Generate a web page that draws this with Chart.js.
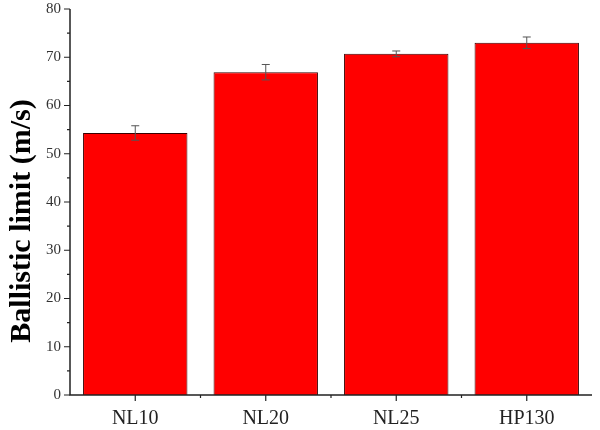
<!DOCTYPE html>
<html lang="en">
<head>
    <meta charset="UTF-8">
    <title>Ballistic limit</title>
    <script src="https://cdn.jsdelivr.net/npm/chart.js"></script>
    <style>
        body { margin: 0; background: #fff; }
        #wrap { width: 600px; height: 430px; }
    </style>
</head>
<body>
    <div id="wrap"><canvas id="blChart"></canvas></div>
    <script>
        const labels = ['NL10', 'NL20', 'NL25', 'HP130'];
        const limits = [54.3, 66.9, 70.7, 73.0];
        const errors = [1.5, 1.6, 0.6, 1.2];
        const yTicks = [0, 10, 20, 30, 40, 50, 60, 70, 80];
        const yTitle = 'Ballistic limit (m/s)';

        // axis lines, major/minor ticks, error bars and the y title
        const extras = {
            id: 'extras',
            afterDatasetsDraw(chart) {
                const ctx = chart.ctx;
                const x = chart.scales.x, y = chart.scales.y;
                const a = chart.chartArea;
                ctx.save();

                // error bars
                ctx.strokeStyle = '#555';
                ctx.lineWidth = 1;
                limits.forEach((v, i) => {
                    const px = x.getPixelForValue(i);
                    const top = y.getPixelForValue(v + errors[i]);
                    const bot = y.getPixelForValue(v - errors[i]);
                    ctx.beginPath();
                    ctx.moveTo(px, top); ctx.lineTo(px, bot);
                    ctx.moveTo(px - 4, top); ctx.lineTo(px + 4, top);
                    ctx.moveTo(px - 4, bot); ctx.lineTo(px + 4, bot);
                    ctx.stroke();
                });

                // axes
                ctx.strokeStyle = '#222';
                ctx.lineWidth = 1.5;
                ctx.beginPath();
                ctx.moveTo(a.left, a.top); ctx.lineTo(a.left, a.bottom);
                ctx.lineTo(a.right, a.bottom);
                ctx.stroke();

                ctx.lineWidth = 1.2;
                ctx.beginPath();
                for (let v = 0; v <= 80; v += 5) {
                    const py = y.getPixelForValue(v);
                    ctx.moveTo(a.left, py);
                    ctx.lineTo(a.left - (v % 10 === 0 ? 6 : 3), py);
                }
                for (let i = 0; i < labels.length; i++) {
                    const px = x.getPixelForValue(i);
                    ctx.moveTo(px, a.bottom); ctx.lineTo(px, a.bottom + 6);
                    if (i > 0) {
                        const mx = (px + x.getPixelForValue(i - 1)) / 2;
                        ctx.moveTo(mx, a.bottom); ctx.lineTo(mx, a.bottom + 3);
                    }
                }
                ctx.stroke();

                // y title, a bit below the axis middle as in the original
                ctx.translate(22, (a.top + a.bottom) / 2 + 19);
                ctx.rotate(-Math.PI / 2);
                ctx.fillStyle = '#000';
                ctx.font = 'bold 30px "Liberation Serif"';
                ctx.textAlign = 'center';
                ctx.textBaseline = 'middle';
                ctx.fillText(yTitle, 0, 0);
                ctx.restore();
            }
        };

        new Chart(document.getElementById('blChart'), {
            type: 'bar',
            data: {
                labels: labels,
                datasets: [{
                    data: limits,
                    backgroundColor: '#ff0000',
                    borderColor: '#3a0000',
                    borderWidth: 1,
                    barPercentage: 0.8,
                    categoryPercentage: 1.0
                }]
            },
            options: {
                responsive: true,
                maintainAspectRatio: false,
                animation: false,
                layout: { padding: { top: 9, right: 8, left: 0, bottom: 0 } },
                plugins: { legend: { display: false }, tooltip: { enabled: false } },
                scales: {
                    x: {
                        grid: { display: false, drawTicks: false },
                        border: { display: false },
                        ticks: {
                            color: '#222',
                            padding: 12,
                            font: { family: 'Liberation Serif', size: 20 }
                        },
                        afterFit(s) { s.height = 35; }
                    },
                    y: {
                        min: 0,
                        max: 80,
                        afterBuildTicks(s) { s.ticks = yTicks.map(v => ({ value: v })); },
                        grid: { display: false, drawTicks: false },
                        border: { display: false },
                        ticks: {
                            color: '#333',
                            padding: 9,
                            font: { family: 'Liberation Serif', size: 15 }
                        },
                        afterFit(s) {
                            s.width = 70;
                            s.paddingTop = 0;
                            s.paddingBottom = 0;
                        }
                    }
                }
            },
            plugins: [extras]
        });
    </script>
</body>
</html>
